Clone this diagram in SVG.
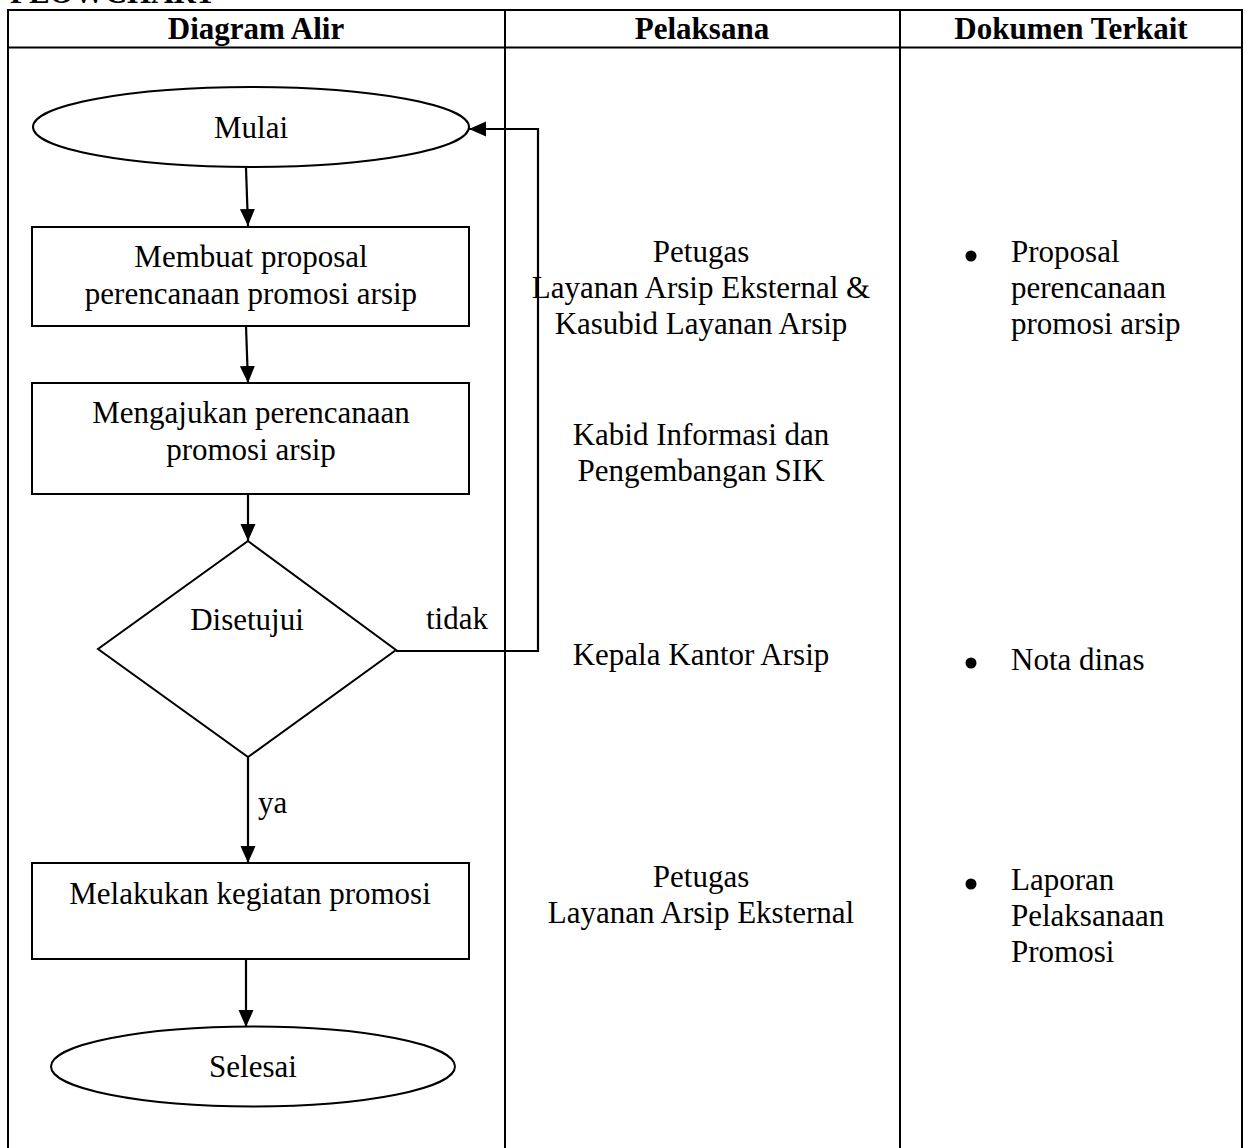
<svg xmlns="http://www.w3.org/2000/svg" width="1248" height="1148" viewBox="0 0 1248 1148">
<style>
text{font-family:"Liberation Serif","Times New Roman",serif;font-size:31px;fill:#000}
.h{font-weight:bold;text-anchor:middle}
.c{text-anchor:middle}
.grid{stroke:#000;stroke-width:2;fill:none}
.shape{stroke:#000;stroke-width:2;fill:#fff}
.conn{stroke:#000;stroke-width:2.2;fill:none}
</style>
<defs>
<marker id="arr" markerUnits="userSpaceOnUse" markerWidth="18" markerHeight="16" refX="17" refY="8" orient="auto">
<path d="M0,0.5 L17,8 L0,15.5 Z" fill="#000"/>
</marker>
</defs>
<rect width="1248" height="1148" fill="#fff"/>
<text x="10" y="3" font-weight="bold">FLOWCHART</text>
<g id="table">
<path class="grid" d="M8,1160 V10 H1242 V1160 M8,47.5 H1242 M505,10 V1160 M900,10 V1160"/>
<text class="h" x="256" y="39">Diagram Alir</text>
<text class="h" x="702" y="39">Pelaksana</text>
<text class="h" x="1071" y="39">Dokumen Terkait</text>
</g>
<g id="connectors">
<line class="conn" x1="246" y1="168" x2="248" y2="226" marker-end="url(#arr)"/>
<line class="conn" x1="246" y1="326" x2="248" y2="383" marker-end="url(#arr)"/>
<line class="conn" x1="248" y1="494" x2="248" y2="541" marker-end="url(#arr)"/>
<line class="conn" x1="248" y1="757" x2="248" y2="863" marker-end="url(#arr)"/>
<line class="conn" x1="246" y1="959" x2="246" y2="1027" marker-end="url(#arr)"/>
<polyline class="conn" points="396,651 538,651 538,129 469,129" marker-end="url(#arr)"/>
<text x="426" y="629">tidak</text>
<text x="258" y="813">ya</text>
</g>
<g id="mulai">
<ellipse class="shape" cx="251" cy="127" rx="218" ry="40"/>
<text class="c" x="251" y="138">Mulai</text>
</g>
<g id="membuat">
<rect class="shape" x="32" y="227" width="437" height="99"/>
<text class="c" x="251" y="267">Membuat proposal</text>
<text class="c" x="251" y="304">perencanaan promosi arsip</text>
</g>
<g id="mengajukan">
<rect class="shape" x="32" y="383" width="437" height="111"/>
<text class="c" x="251" y="423">Mengajukan perencanaan</text>
<text class="c" x="251" y="460">promosi arsip</text>
</g>
<g id="disetujui">
<polygon class="shape" points="248,541 396,650 248,757 98,649"/>
<text class="c" x="247" y="630">Disetujui</text>
</g>
<g id="melakukan">
<rect class="shape" x="32" y="863" width="437" height="96"/>
<text class="c" x="250" y="904">Melakukan kegiatan promosi</text>
</g>
<g id="selesai">
<ellipse class="shape" cx="253" cy="1066.5" rx="202" ry="40"/>
<text class="c" x="253" y="1077">Selesai</text>
</g>
<g id="pelaksana">
<text class="c" x="701" y="262">Petugas</text>
<text class="c" x="701" y="298">Layanan Arsip Eksternal &amp;</text>
<text class="c" x="701" y="334">Kasubid Layanan Arsip</text>
<text class="c" x="701" y="445">Kabid Informasi dan</text>
<text class="c" x="701" y="481">Pengembangan SIK</text>
<text class="c" x="701" y="665">Kepala Kantor Arsip</text>
<text class="c" x="701" y="887">Petugas</text>
<text class="c" x="701" y="923">Layanan Arsip Eksternal</text>
</g>
<g id="dokumen">
<circle cx="971" cy="256" r="5.5"/>
<text x="1011" y="262">Proposal</text>
<text x="1011" y="298">perencanaan</text>
<text x="1011" y="334">promosi arsip</text>
<circle cx="971" cy="663" r="5.5"/>
<text x="1011" y="670">Nota dinas</text>
<circle cx="971" cy="884" r="5.5"/>
<text x="1011" y="890">Laporan</text>
<text x="1011" y="926">Pelaksanaan</text>
<text x="1011" y="962">Promosi</text>
</g>
</svg>
